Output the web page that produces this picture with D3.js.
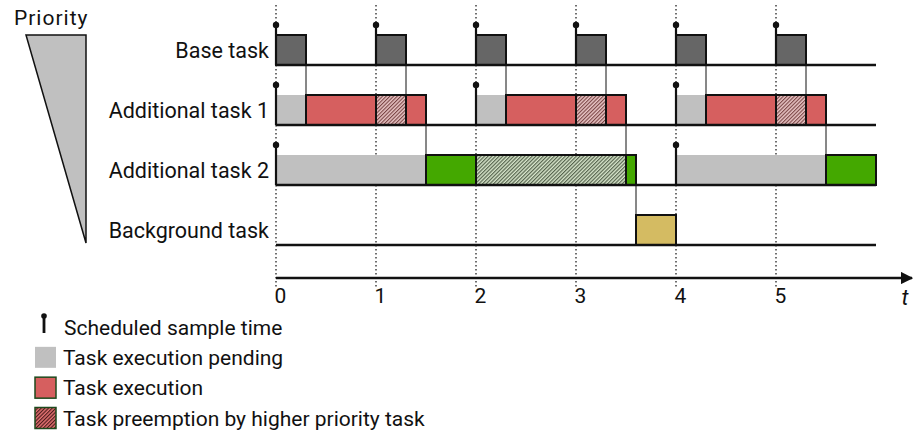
<!DOCTYPE html>
<html>
<head>
<meta charset="utf-8">
<script src="https://cdn.jsdelivr.net/npm/d3@7"></script>
<style>
  body { margin: 0; background: #fff; }
  text { font-family: Roboto, "DejaVu Sans", sans-serif; fill: #111; }
</style>
</head>
<body>
<div id="maindiv"></div>
<script>
// ---- data ----
var tickValues = [0, 1, 2, 3, 4, 5];
var taskNames = ["Base task", "Additional task 1", "Additional task 2", "Background task"];
var sampleTimes = [[0, 1, 2, 3, 4, 5], [0, 2, 4], [0, 4], []];

// [start, end, kind] per task row
var baseSegs = [[0, 0.3, "base"], [1, 1.3, "base"], [2, 2.3, "base"], [3, 3.3, "base"], [4, 4.3, "base"], [5, 5.3, "base"]];
var add1Segs = [[0, 0.3, "pending"], [0.3, 1, "exec"], [1, 1.3, "preempt"], [1.3, 1.5, "exec"],
                [2, 2.3, "pending"], [2.3, 3, "exec"], [3, 3.3, "preempt"], [3.3, 3.5, "exec"],
                [4, 4.3, "pending"], [4.3, 5, "exec"], [5, 5.3, "preempt"], [5.3, 5.5, "exec"]];
var add2Segs = [[0, 1.5, "pending"], [1.5, 2, "exec2"], [2, 3.5, "preempt2"], [3.5, 3.6, "exec2"],
                [4, 5.5, "pending"], [5.5, 6, "exec2"]];
var bgSegs = [[3.6, 4, "bg"]];
var allSegs = [baseSegs, add1Segs, add2Segs, bgSegs];

// hand-over lines: [time, from row]
var handovers = [[0.3, 0], [1.3, 0], [2.3, 0], [3.3, 0], [4.3, 0], [5.3, 0],
                 [1.5, 1], [3.5, 1], [5.5, 1], [3.6, 2]];

var legendLabels = ["Scheduled sample time", "Task execution pending", "Task execution", "Task preemption by higher priority task"];

// ---- drawing ----
var width = 913, height = 432;
var svg = d3.select("#maindiv").append("svg")
    .attr("width", width).attr("height", height);

var x = d3.scaleLinear().domain([0, 6]).range([276, 876]);
var y = d3.scaleBand().domain(d3.range(taskNames.length)).range([5, 245]).paddingInner(0).paddingOuter(0);
var rowBase = function (i) { return y(i) + y.bandwidth(); };   // baseline of row
var boxH = 30;

var fills = {
    base: "#666666", pending: "#c0c0c0", exec: "#d65f5f",
    preempt: "url(#hatchRed)", exec2: "#44a800", preempt2: "url(#hatchGreen)", bg: "#d4bb62"
};

var defs = svg.append("defs");
function hatch(id, bg, line, size, lw) {
    var p = defs.append("pattern").attr("id", id)
        .attr("patternUnits", "userSpaceOnUse")
        .attr("width", size).attr("height", size)
        .attr("patternTransform", "rotate(45)");
    p.append("rect").attr("width", size).attr("height", size).attr("fill", bg);
    p.append("line").attr("x1", 0).attr("y1", 0).attr("x2", 0).attr("y2", size)
        .attr("stroke", line).attr("stroke-width", lw);
}
hatch("hatchRed", "#e8c4c4", "#7a4545", 2.6, 2.2);
hatch("hatchGreen", "#d8e6cc", "#56644e", 2.6, 2.4);
hatch("hatchRedLeg", "#e07070", "#4a1a1a", 2.6, 2.2);

// dotted time grid
svg.append("g").selectAll("line").data(tickValues).enter().append("line")
    .attr("x1", d => x(d)).attr("x2", d => x(d))
    .attr("y1", 5).attr("y2", 287)
    .attr("stroke", "#222").attr("stroke-width", 1.3)
    .attr("stroke-dasharray", "1.5,2.5");

// hand-over thin lines
svg.append("g").selectAll("line").data(handovers).enter().append("line")
    .attr("x1", d => x(d[0])).attr("x2", d => x(d[0]))
    .attr("y1", d => rowBase(d[1]))
    .attr("y2", d => rowBase(d[1] + 1) - boxH)
    .attr("stroke", "#111").attr("stroke-width", 1);

// task boxes
allSegs.forEach(function (segs, i) {
    svg.append("g").selectAll("rect").data(segs).enter().append("rect")
        .attr("x", d => x(d[0]))
        .attr("y", rowBase(i) - boxH)
        .attr("width", d => x(d[1]) - x(d[0]))
        .attr("height", boxH)
        .attr("fill", d => fills[d[2]])
        .attr("stroke", d => d[2] === "pending" ? "none" : "#111")
        .attr("stroke-width", 2);
});

// row baselines
svg.append("g").selectAll("line").data(taskNames).enter().append("line")
    .attr("x1", x(0)).attr("x2", x(6))
    .attr("y1", (d, i) => rowBase(i)).attr("y2", (d, i) => rowBase(i))
    .attr("stroke", "#111").attr("stroke-width", 2.5);

// row labels
svg.append("g").selectAll("text").data(taskNames).enter().append("text")
    .attr("x", 269).attr("y", (d, i) => rowBase(i) - boxH / 2)
    .attr("dy", "0.36em").attr("text-anchor", "end")
    .attr("font-size", 21.5).text(d => d);

// sample time markers
sampleTimes.forEach(function (ts, i) {
    var g = svg.append("g");
    g.selectAll("line").data(ts).enter().append("line")
        .attr("x1", d => x(d)).attr("x2", d => x(d))
        .attr("y1", rowBase(i)).attr("y2", rowBase(i) - 40)
        .attr("stroke", "#111").attr("stroke-width", 2.2);
    g.selectAll("circle").data(ts).enter().append("circle")
        .attr("cx", d => x(d)).attr("cy", rowBase(i) - 40).attr("r", 3.2)
        .attr("fill", "#111");
});

// time axis
var axisY = 278;
defs.append("marker").attr("id", "arrow").attr("viewBox", "0 0 10 10")
    .attr("refX", 9).attr("refY", 5).attr("markerWidth", 5).attr("markerHeight", 5)
    .attr("orient", "auto").attr("markerUnits", "strokeWidth")
    .append("path").attr("d", "M0,0 L10,5 L0,10 z").attr("fill", "#111");
svg.append("line").attr("x1", x(0)).attr("x2", 912)
    .attr("y1", axisY).attr("y2", axisY)
    .attr("stroke", "#111").attr("stroke-width", 2.5)
    .attr("marker-end", "url(#arrow)");
var axis = d3.axisBottom(x).tickValues(tickValues).tickFormat(d3.format("d")).tickSize(0).tickPadding(10);
var axG = svg.append("g").attr("transform", `translate(0,${axisY})`).call(axis);
axG.select(".domain").remove();
axG.selectAll("text").attr("font-size", 21).attr("fill", "#111")
    .attr("font-family", "Roboto, sans-serif")
    .attr("dx", 4);
svg.append("text").attr("x", 905).attr("y", 305).attr("text-anchor", "middle")
    .attr("font-size", 22).attr("font-style", "italic").text("t");

// priority wedge
svg.append("text").attr("x", 14).attr("y", 25).attr("font-size", 21)
    .attr("letter-spacing", 1).text("Priority");
svg.append("path").attr("d", "M26,35 L86,35 L86,243 Z")
    .attr("fill", "#c0c0c0").attr("stroke", "#111").attr("stroke-width", 1.5)
    .attr("stroke-linejoin", "miter");

// legend
var leg = svg.append("g");
var legY = d3.scalePoint().domain(d3.range(legendLabels.length)).range([327, 418]);
leg.selectAll("text").data(legendLabels).enter().append("text")
    .attr("x", (d, i) => i === 0 ? 64 : 63).attr("y", (d, i) => legY(i))
    .attr("dy", "0.36em").attr("font-size", 21).text(d => d);
leg.append("line").attr("x1", 44).attr("x2", 44).attr("y1", 316).attr("y2", 333)
    .attr("stroke", "#111").attr("stroke-width", 2.8);
leg.append("circle").attr("cx", 44).attr("cy", 316).attr("r", 2.8).attr("fill", "#111");
var legFills = [null, "#c0c0c0", "#d65f5f", "url(#hatchRedLeg)"];
leg.selectAll("rect").data(d3.range(1, 4)).enter().append("rect")
    .attr("x", 35).attr("y", d => legY(d) - 10.5)
    .attr("width", 21).attr("height", 21)
    .attr("fill", d => legFills[d])
    .attr("stroke", d => d === 1 ? "none" : "#1d4a1d").attr("stroke-width", 1.5);
</script>
</body>
</html>
